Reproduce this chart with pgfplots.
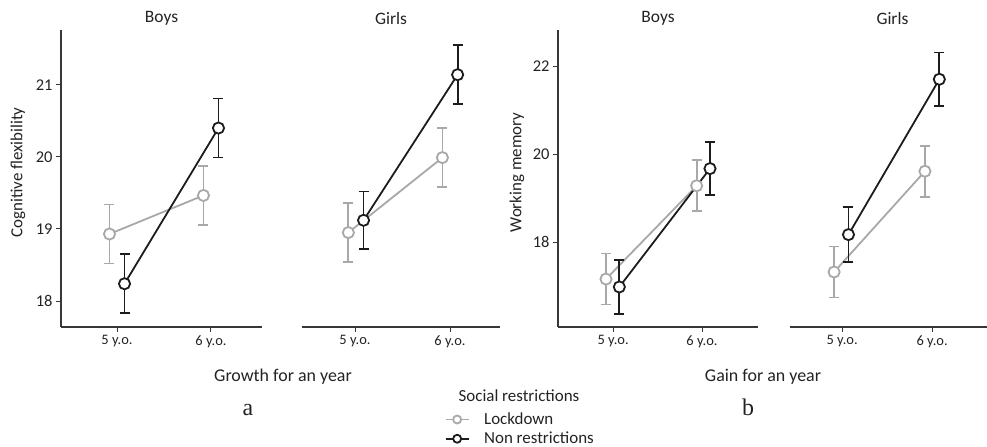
\documentclass[border=0pt]{standalone}
\usepackage{fontspec}
\setmainfont{Carlito}
\newfontfamily\seriffont{Liberation Serif}
\usepackage{pgfplots}
\pgfplotsset{compat=1.18}
\definecolor{lgray}{RGB}{168,168,168}
\definecolor{dblack}{RGB}{28,28,28}
\definecolor{axgray}{RGB}{55,55,55}
\definecolor{txt}{RGB}{35,35,35}

\pgfplotsset{
  panel/.style={
    scale only axis, height=297bp,
    axis x line*=bottom, axis line style={-, axgray, line width=1.3bp},
    xtick={0,1}, xticklabels={5 y.o., 6 y.o.},
    tick align=outside, major tick length=5bp,
    tick style={axgray, line width=1bp},
    x tick label style={font=\fontsize{14.5}{16}\selectfont, text=txt},
    y tick label style={font=\fontsize{16.5}{18}\selectfont, text=txt},
    /pgf/number format/assume math mode=true,
    every axis title/.style={at={(axis description cs:0.5,1.04)}, anchor=center, font=\fontsize{17.5}{20}\selectfont, text=txt},
    every axis y label/.style={at={(axis description cs:-0.214,0.52)}, rotate=90, anchor=center, font=\fontsize{17}{20}\selectfont, text=txt},
    clip=false,
    error bars/y dir=both, error bars/y explicit, error bars/error mark=|,
  },
  noy/.style={axis y line=none, ytick=\empty},
  lock/.style={color=lgray, line width=1.8bp, mark=*, mark size=5.6bp,
    mark options={fill=white, draw=lgray, line width=1.8bp},
    error bars/error mark options={mark size=5bp, line width=1.8bp, lgray},
    error bars/error bar style={line width=1.8bp, lgray}},
  nonr/.style={color=dblack, line width=1.8bp, mark=*, mark size=5.6bp,
    mark options={fill=white, draw=dblack, line width=1.8bp},
    error bars/error mark options={mark size=5bp, line width=1.8bp, dblack},
    error bars/error bar style={line width=1.8bp, dblack}},
}

\begin{document}
\begin{tikzpicture}
\path[use as bounding box] (0bp,0bp) rectangle (987bp,447bp);

% Panel 1: Cognitive flexibility, Boys
\begin{axis}[panel, at={(61bp,120bp)}, anchor=south west, width=201bp,
  xmin=-0.596, xmax=1.543, ymin=17.64, ymax=21.76,
  axis y line*=left, ytick={18,19,20,21},
  ylabel={Cognitive flexibility},
  title={Boys}]
\addplot+[lock] coordinates {(-0.08,18.93) +- (0,0.41) (0.92,19.465) +- (0,0.41)};
\addplot+[nonr] coordinates {(0.08,18.24) +- (0,0.41) (1.08,20.40) +- (0,0.41)};
\end{axis}

% Panel 2: Cognitive flexibility, Girls
\begin{axis}[panel, noy, at={(302bp,120bp)}, anchor=south west, width=198bp,
  xmin=-0.558, xmax=1.526, ymin=17.64, ymax=21.76,
  title={Girls}, title style={at={(axis description cs:0.45,1.04)}},
  legend style={at={(axis description cs:0.72,-0.2835)}, anchor=north west,
    draw=none, fill=none, inner sep=0pt, row sep=3bp,
    font=\fontsize{17}{20}\selectfont, text=txt,
    nodes={inner sep=1.5bp}},
  legend cell align=left,
  legend image code/.code={\draw[mark repeat=2, mark phase=2, mark size=4bp, line width=1.8bp, #1] plot coordinates {(0bp,0bp) (11.5bp,0bp) (23bp,0bp)}; \path[draw=none, fill=none] (0bp,0bp) rectangle (37bp,0.1bp);}]
\addplot+[lock] coordinates {(-0.07,18.95) +- (0,0.41) (0.92,19.99) +- (0,0.41)};
\addplot+[nonr] coordinates {(0.09,19.12) +- (0,0.40) (1.08,21.14) +- (0,0.41)};
\legend{Lockdown, Non restrictions}
\end{axis}

% Panel 3: Working memory, Boys
\begin{axis}[panel, at={(558bp,120bp)}, anchor=south west, width=200bp,
  xmin=-0.62, xmax=1.63, ymin=16.07, ymax=22.82,
  axis y line*=left, ytick={18,20,22},
  ylabel={Working memory},
  ylabel style={at={(axis description cs:-0.205,0.52)}},
  title={Boys}]
\addplot+[lock] coordinates {(-0.08,17.16) +- (0,0.58) (0.94,19.28) +- (0,0.58)};
\addplot+[nonr] coordinates {(0.07,16.98) +- (0,0.62) (1.09,19.67) +- (0,0.60)};
\end{axis}

% Panel 4: Working memory, Girls
\begin{axis}[panel, noy, at={(790bp,120bp)}, anchor=south west, width=197bp,
  xmin=-0.58, xmax=1.61, ymin=16.07, ymax=22.82,
  title={Girls}, title style={at={(axis description cs:0.52,1.04)}}]
\addplot+[lock] coordinates {(-0.09,17.32) +- (0,0.58) (0.92,19.61) +- (0,0.58)};
\addplot+[nonr] coordinates {(0.07,18.17) +- (0,0.62) (1.08,21.70) +- (0,0.61)};
\end{axis}

\node[font=\fontsize{18}{20}\selectfont, text=txt] at (283bp,70bp) {Growth for an year};
\node[font=\fontsize{18}{20}\selectfont, text=txt] at (763bp,70bp) {Gain for an year};
\node[font=\seriffont\fontsize{24}{26}\selectfont, text=txt, anchor=base] at (248bp,32bp) {a};
\node[font=\seriffont\fontsize{24}{26}\selectfont, text=txt, anchor=base] at (748bp,32bp) {b};
\node[font=\fontsize{17}{20}\selectfont, text=txt] at (519bp,51bp) {Social restrictions};
\end{tikzpicture}
\end{document}
